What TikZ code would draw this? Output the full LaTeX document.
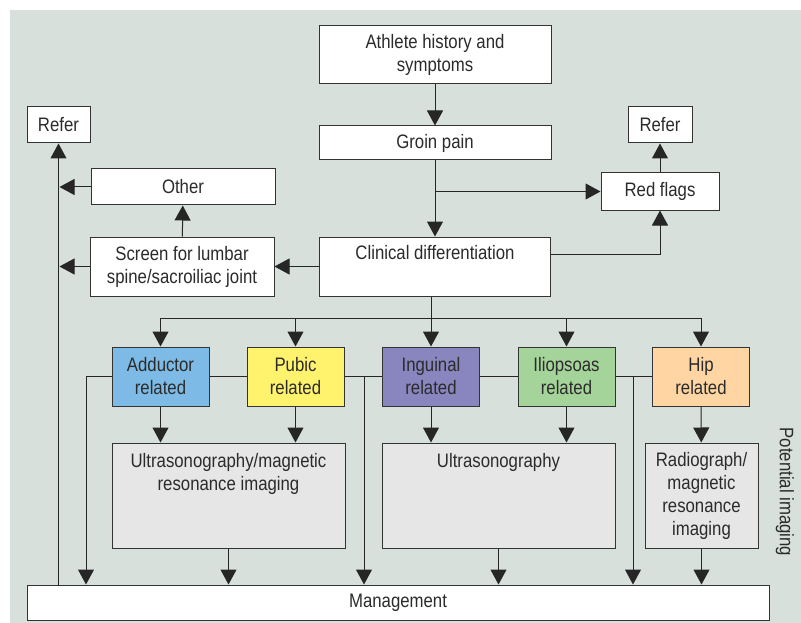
\documentclass[tikz,border=0pt]{standalone}
\usepackage{fontspec}
\setmainfont{Liberation Sans}[FakeStretch=0.86]
\usepackage{tikz}
\usetikzlibrary{arrows.meta}
\definecolor{bgcol}{HTML}{D8E0DB}
\definecolor{addcol}{HTML}{7DBBE6}
\definecolor{pubcol}{HTML}{FFF36E}
\definecolor{ingcol}{HTML}{8985BE}
\definecolor{iliocol}{HTML}{A5D49B}
\definecolor{hipcol}{HTML}{FFD6A3}
\definecolor{imgcol}{HTML}{E6E6E6}
\definecolor{txtcol}{HTML}{2B2B2B}
\tikzstyle{box}=[
        draw=black!80, line width=1pt, fill=white, inner sep=0pt,
        align=center, text=txtcol
]
\tikzstyle{region}=[
        box, minimum width=97pt, minimum height=59pt
]
\tikzstyle{imaging}=[
        box, fill=imgcol, minimum height=105pt
]
\tikzstyle{arr}=[
        line width=1pt, draw=black!85,
        -{Triangle[width=16pt,length=15pt]}
]

\begin{document}
\begin{tikzpicture}[x=1pt,y=-1pt,font=\fontsize{19.5}{23}\selectfont]
                        \useasboundingbox (0,0) rectangle (801,623);
                        \fill[bgcol] (10,10) rectangle (801,623);

                        \node[box, minimum width=232pt, minimum height=58pt] (hist) at (435,55) {Athlete history and\\symptoms};
                        \node[box, minimum width=232pt, minimum height=34pt] (groin) at (435,143) {Groin pain};
                        \node[box, minimum width=231pt, minimum height=59pt,
                            label={[anchor=north,text=txtcol,yshift=-5pt]north:Clinical differentiation}] (clin) at (435,266.5) {};
                        \node[box, minimum width=118pt, minimum height=37pt] (red) at (660,191.5) {Red flags};
                        \node[box, minimum width=64pt, minimum height=36pt] (referR) at (660,125) {Refer};
                        \node[box, minimum width=63pt, minimum height=36pt] (referL) at (58.5,125) {Refer};
                        \node[box, minimum width=184pt, minimum height=36pt] (other) at (183,187) {Other};
                        \node[box, minimum width=184pt, minimum height=59pt] (screen) at (182,266.5) {Screen for lumbar\\spine/sacroiliac joint};

                        \node[region, fill=addcol] (add) at (160.5,376.5) {Adductor\\related};
                        \node[region, fill=pubcol] (pub) at (295.5,376.5) {Pubic\\related};
                        \node[region, fill=ingcol] (ing) at (431,376.5) {Inguinal\\related};
                        \node[region, fill=iliocol] (ilio) at (566.5,376.5) {Iliopsoas\\related};
                        \node[region, fill=hipcol] (hip) at (701,376.5) {Hip\\related};

                        \node[imaging, minimum width=233pt,
                            label={[anchor=north,align=center,text=txtcol,yshift=-7pt]north:Ultrasonography/magnetic\\resonance imaging}] (usmri) at (228.5,495.5) {};
                        \node[imaging, minimum width=233pt,
                            label={[anchor=north,text=txtcol,yshift=-7pt]north:Ultrasonography}] (us) at (498.5,495.5) {};
                        \node[imaging, minimum width=113pt] (radio) at (701.5,495.5) {Radiograph/\\magnetic\\resonance\\imaging};

                        \node[box, minimum width=742pt, minimum height=35pt] (mgmt) at (398,602.5) {Management};
                        \node[text=txtcol, rotate=-90] (potimg) at (785,492) {Potential imaging};

                        \coordinate (bus) at (0,318);
                        \coordinate (d1) at (86,0);
                        \coordinate (d2) at (364,0);
                        \coordinate (d3) at (633,0);

                        \draw[arr] (hist) -- (groin);
                        \draw[arr] (groin) -- (clin);
                        \draw[arr] (groin.south |- red.west) -- (red.west);
                        \draw[arr] ([yshift=12pt]clin.east) -| (red.south);
                        \draw[arr] (red) -- (referR);
                        \draw[arr] (clin) -- (screen);
                        \draw[arr] (screen) -- (other);
                        \draw[arr] (mgmt.north -| referL) -- (referL);
                        \draw[arr] (other.west) -- ([xshift=1pt]other.west -| referL);
                        \draw[arr] (screen.west) -- ([xshift=1pt]screen.west -| referL);

                        \draw[line width=1pt, draw=black!85] (bus -| add) -- (bus -| hip);
                        \draw[arr] (clin.south -| ing) -- (ing);
                        \foreach \n in {add,pub,ilio,hip} {
                            \draw[arr] (bus -| \n) -- (\n);
                        }

                        \draw[line width=1pt, draw=black!85] (add) -- (pub) -- (ing) -- (ilio) -- (hip);
                        \draw[arr] (add.west) -| (d1 |- mgmt.north);
                        \draw[arr] (d2 |- pub.east) -- (d2 |- mgmt.north);
                        \draw[arr] (d3 |- ilio.east) -- (d3 |- mgmt.north);

                        \draw[arr] (add) -- (add |- usmri.north);
                        \draw[arr] (pub) -- (pub |- usmri.north);
                        \draw[arr] (ing) -- (ing |- us.north);
                        \draw[arr] (ilio) -- (ilio |- us.north);
                        \draw[arr] (hip) -- (radio);

                        \foreach \n in {usmri,us,radio} {
                            \draw[arr] (\n) -- (\n |- mgmt.north);
                        }
                    \end{tikzpicture}
\end{document}
